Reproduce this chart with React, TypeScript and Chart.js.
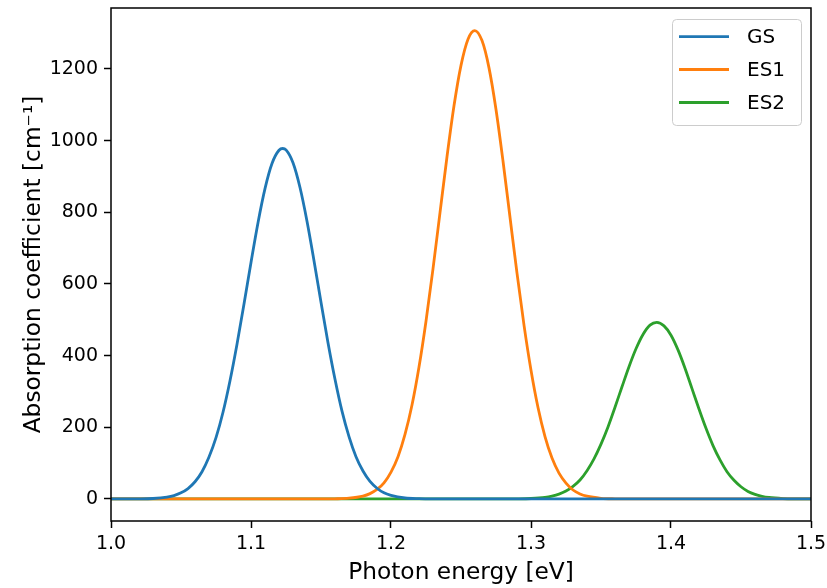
import React, { useEffect, useRef } from "react";
import { Chart, registerables } from "chart.js";

Chart.register(...registerables);

const seriesLabels = ["GS", "ES1", "ES2"];
const seriesColors = ["#1f77b4", "#ff7f0e", "#2ca02c"];

const gsX = [1.0, 1.02, 1.03, 1.04, 1.045, 1.05, 1.055, 1.06, 1.065, 1.07, 1.075, 1.08, 1.085, 1.09, 1.095, 1.1, 1.105, 1.11, 1.115, 1.12, 1.1226, 1.125, 1.13, 1.135, 1.14, 1.145, 1.15, 1.155, 1.16, 1.165, 1.17, 1.175, 1.18, 1.185, 1.19, 1.195, 1.2, 1.21, 1.22, 1.23, 1.25, 1.5];
const gsY = [0, 0.3, 1.3, 5.2, 9.5, 17, 29, 48, 76, 117, 171, 242, 330, 432, 544, 660, 771, 866, 936, 973, 978, 974, 938, 869, 775, 665, 549, 436, 334, 245, 174, 118, 78, 49, 30, 17, 10, 2.7, 0.7, 0.1, 0, 0];

const es1X = [1.0, 1.14, 1.15, 1.16, 1.17, 1.18, 1.185, 1.19, 1.195, 1.2, 1.205, 1.21, 1.215, 1.22, 1.225, 1.23, 1.235, 1.24, 1.245, 1.25, 1.255, 1.2598, 1.265, 1.27, 1.275, 1.28, 1.285, 1.29, 1.295, 1.3, 1.305, 1.31, 1.315, 1.32, 1.325, 1.33, 1.335, 1.34, 1.35, 1.36, 1.37, 1.38, 1.5];
const es1Y = [0, 0, 0.08, 0.45, 2.1, 8.0, 14.9, 26.5, 45, 75, 118, 180, 262, 368, 496, 642, 799, 955, 1097, 1210, 1283, 1307, 1279, 1203, 1087, 943, 786, 630, 485, 359, 255, 174, 114, 72, 44, 25, 14, 7.6, 1.9, 0.4, 0.06, 0, 0];

const es2X = [1.0, 1.27, 1.28, 1.29, 1.3, 1.31, 1.315, 1.32, 1.325, 1.33, 1.335, 1.34, 1.345, 1.35, 1.355, 1.36, 1.365, 1.37, 1.375, 1.38, 1.385, 1.3898, 1.395, 1.4, 1.405, 1.41, 1.415, 1.42, 1.425, 1.43, 1.435, 1.44, 1.445, 1.45, 1.455, 1.46, 1.465, 1.47, 1.48, 1.49, 1.5];
const es2Y = [0, 0, 0.07, 0.3, 1.3, 4.4, 7.9, 13.4, 22, 35, 53, 79, 112, 153, 201, 256, 313, 369, 419, 459, 485, 493, 483, 457, 416, 365, 308, 251, 197, 149, 109, 76, 52, 34, 21, 12.9, 7.5, 4.2, 1.2, 0.3, 0.07];

const xTicks = [1.0, 1.1, 1.2, 1.3, 1.4, 1.5];
const yTicks = [0, 200, 400, 600, 800, 1000, 1200];
const xRange = [1.0, 1.5];
const yRange = [-61.5, 1370];

const xTitle = "Photon energy [eV]";
const yTitle = "Absorption coefficient [cm\u207B\u00B9]";

const FONT = "'DejaVu Sans', sans-serif";

const framePlugin = {
  id: "frameAndLegend",
  afterDraw(chart: any) {
    const { ctx, chartArea } = chart;
    ctx.save();
    ctx.strokeStyle = "#000";
    ctx.lineWidth = 1.5;
    ctx.strokeRect(chartArea.left, chartArea.top, chartArea.right - chartArea.left, chartArea.bottom - chartArea.top);

    // legend
    const w = 129;
    const h = 106;
    const bx = chartArea.right - 10 - w;
    const by = chartArea.top + 11;
    ctx.beginPath();
    if ((ctx as any).roundRect) {
      (ctx as any).roundRect(bx + 0.5, by + 0.5, w, h, 4);
    } else {
      ctx.rect(bx + 0.5, by + 0.5, w, h);
    }
    ctx.fillStyle = "rgba(255,255,255,0.8)";
    ctx.fill();
    ctx.strokeStyle = "#cccccc";
    ctx.lineWidth = 1;
    ctx.stroke();

    const rows = [17.7, 50.5, 83.5];
    chart.data.datasets.forEach((ds: any, i: number) => {
      const y = by + rows[i];
      ctx.beginPath();
      ctx.strokeStyle = ds.borderColor;
      ctx.lineWidth = 2.8;
      ctx.moveTo(bx + 7, y);
      ctx.lineTo(bx + 57, y);
      ctx.stroke();
      ctx.fillStyle = "#000";
      ctx.font = `20px ${FONT}`;
      ctx.textAlign = "left";
      ctx.textBaseline = "middle";
      ctx.fillText(ds.label, bx + 75, y + 1);
    });
    ctx.restore();
  },
};

export default function App() {
  const canvasRef = useRef<HTMLCanvasElement | null>(null);

  useEffect(() => {
    const canvas = canvasRef.current;
    if (!canvas) return;
    const xs = [gsX, es1X, es2X];
    const ys = [gsY, es1Y, es2Y];
    const datasets = seriesLabels.map((label, i) => ({
      label,
      data: xs[i].map((x, j) => ({ x, y: ys[i][j] })),
      borderColor: seriesColors[i],
      backgroundColor: seriesColors[i],
      borderWidth: 2.8,
      pointRadius: 0,
      fill: false,
      cubicInterpolationMode: "monotone" as const,
    }));

    const chart = new Chart(canvas, {
      type: "line",
      data: { datasets },
      options: {
        animation: false,
        responsive: false,
        devicePixelRatio: 1,
        layout: { padding: { top: 8, right: 16, left: 0, bottom: 0 } },
        plugins: { legend: { display: false }, tooltip: { enabled: false } },
        scales: {
          x: {
            type: "linear",
            min: xRange[0],
            max: xRange[1],
            afterBuildTicks: (scale: any) => {
              scale.ticks = xTicks.map((v) => ({ value: v }));
            },
            afterFit: (scale: any) => {
              scale.height = 67;
              scale.paddingLeft = 0;
              scale.paddingRight = 0;
            },
            border: { display: false },
            grid: {
              drawOnChartArea: false,
              drawTicks: true,
              tickLength: 7,
              tickWidth: 1.5,
              tickColor: "#000",
              color: "#000",
            },
            ticks: {
              padding: 5,
              color: "#000",
              font: { family: FONT, size: 19 },
              maxRotation: 0,
              callback: (v: any) => Number(v).toFixed(1),
            },
            title: {
              display: true,
              text: xTitle,
              color: "#000",
              font: { family: FONT, size: 23.3 },
              padding: { top: 0, bottom: 1 },
            },
          },
          y: {
            type: "linear",
            min: yRange[0],
            max: yRange[1],
            afterBuildTicks: (scale: any) => {
              scale.ticks = yTicks.map((v) => ({ value: v }));
            },
            afterFit: (scale: any) => {
              scale.width = 111;
              scale.paddingTop = 0;
              scale.paddingBottom = 0;
            },
            border: { display: false },
            grid: {
              drawOnChartArea: false,
              drawTicks: true,
              tickLength: 7,
              tickWidth: 1.5,
              tickColor: "#000",
              color: "#000",
            },
            ticks: {
              padding: 6,
              color: "#000",
              font: { family: FONT, size: 19 },
              callback: (v: any) => String(v),
            },
            title: {
              display: true,
              text: yTitle,
              color: "#000",
              font: { family: FONT, size: 23.3 },
              padding: { top: 20, bottom: 0 },
            },
          },
        },
      },
      plugins: [framePlugin],
    });
    return () => chart.destroy();
  }, []);

  return (
    <div style={{ position: "absolute", left: 0, top: 0, width: 827, height: 588, background: "#fff" }}>
      <canvas ref={canvasRef} width={827} height={588} style={{ display: "block", width: 827, height: 588 }} />
    </div>
  );
}
